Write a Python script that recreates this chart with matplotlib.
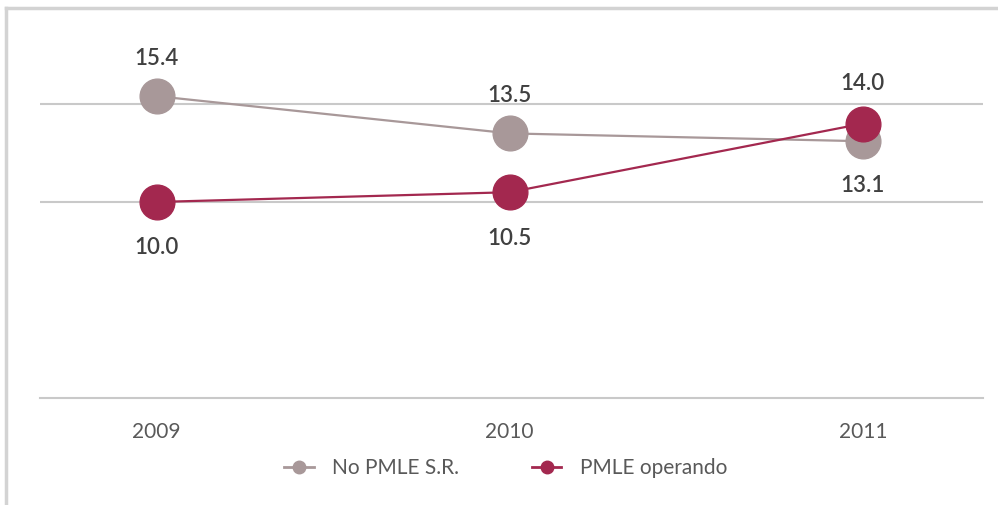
import matplotlib
matplotlib.use("Agg")
import matplotlib.pyplot as plt
from matplotlib.lines import Line2D

years = ["2009", "2010", "2011"]
no_pmle = [15.4, 13.5, 13.1]
pmle_op = [10.0, 10.5, 14.0]
series_names = ["No PMLE S.R.", "PMLE operando"]

gray_c = "#A89899"
mag_c = "#A3284F"
txt_c = "#404040"
tick_c = "#595959"
grid_c = "#C9C9C9"

plt.rcParams['font.family'] = ['Lato', 'DejaVu Sans']

fig = plt.figure(figsize=(9.98, 5.05), dpi=100)
ax = fig.add_axes([40/998, 1-398/505, (983-40)/998, (398-6)/505])

x = list(range(len(years)))
ax.plot(x, no_pmle, color=gray_c, lw=1.6, marker='o', ms=25, mec=gray_c, mfc=gray_c, zorder=3)
ax.plot(x, pmle_op, color=mag_c, lw=1.6, marker='o', ms=25, mec=mag_c, mfc=mag_c, zorder=4)

for xi, v in zip(x, no_pmle):
    off = 38 if xi < 2 else -44
    ax.annotate(f"{v:.1f}", (xi, v), xytext=(0, off*0.72), textcoords='offset points',
                ha='center', va='center', fontsize=16, color=txt_c, fontweight='semibold')
for xi, v in zip(x, pmle_op):
    off = -46 if xi < 2 else 40
    ax.annotate(f"{v:.1f}", (xi, v), xytext=(0, off*0.72), textcoords='offset points',
                ha='center', va='center', fontsize=16, color=txt_c, fontweight='semibold')

ax.set_xlim(-0.33, 2.34)
ax.set_ylim(0, 20)
for gy in [10, 15]:
    ax.axhline(gy, color=grid_c, lw=1.5, zorder=1)
for s in ['top', 'right', 'left']:
    ax.spines[s].set_visible(False)
ax.spines['bottom'].set_color(grid_c)
ax.spines['bottom'].set_linewidth(1.5)
ax.set_yticks([])
ax.set_xticks(x)
ax.set_xticklabels(years, fontsize=15, color=tick_c)
ax.tick_params(axis='x', length=0, pad=17)

handles = [Line2D([0], [0], color=gray_c, lw=2, marker='o', ms=9),
           Line2D([0], [0], color=mag_c, lw=2, marker='o', ms=9)]
fig.legend(handles, series_names, loc='center', bbox_to_anchor=(506/998, 1-468/505),
           ncol=2, frameon=False, fontsize=15, labelcolor=tick_c,
           handlelength=1.4, columnspacing=3.5, handletextpad=0.9)

fig.add_artist(Line2D([6/998, 6/998], [0, 1-8/505], color="#D3D3D3", lw=2.5))
fig.add_artist(Line2D([6/998, 1], [1-8/505, 1-8/505], color="#D3D3D3", lw=2.5))

fig.savefig("out.png", dpi=100)
